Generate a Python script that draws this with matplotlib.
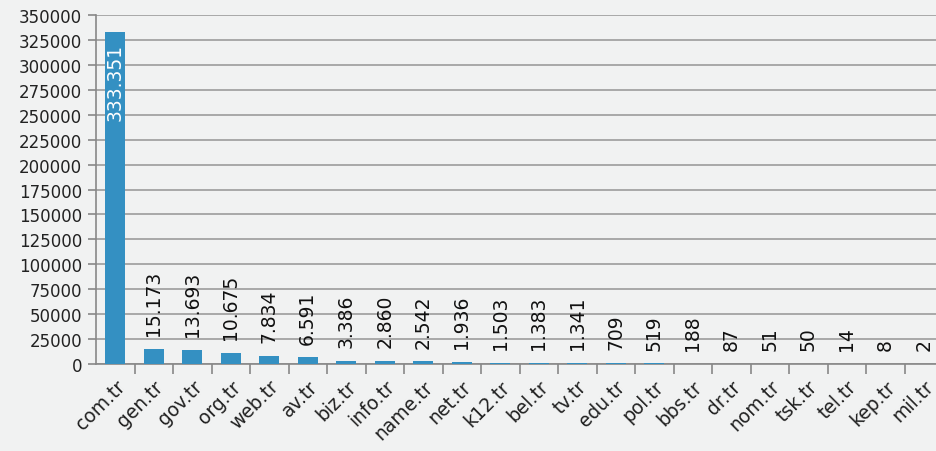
import matplotlib
matplotlib.use('Agg')
import matplotlib.pyplot as plt

domains = ['com.tr', 'gen.tr', 'gov.tr', 'org.tr', 'web.tr', 'av.tr', 'biz.tr', 'info.tr',
           'name.tr', 'net.tr', 'k12.tr', 'bel.tr', 'tv.tr', 'edu.tr', 'pol.tr', 'bbs.tr',
           'dr.tr', 'nom.tr', 'tsk.tr', 'tel.tr', 'kep.tr', 'mil.tr']
counts = [333351, 15173, 13693, 10675, 7834, 6591, 3386, 2860, 2542, 1936, 1503, 1383,
          1341, 709, 519, 188, 87, 51, 50, 14, 8, 2]
labels = ['333.351', '15.173', '13.693', '10.675', '7.834', '6.591', '3.386', '2.860',
          '2.542', '1.936', '1.503', '1.383', '1.341', '709', '519', '188', '87', '51',
          '50', '14', '8', '2']

bg = '#f1f2f2'
fig = plt.figure(figsize=(9.36, 4.52), dpi=100, facecolor=bg)
# plot area runs a bit past the right edge like in the original
ax = fig.add_axes([96/936, 87/452, 847/936, 349/452], facecolor=bg)

x = list(range(len(domains)))
ax.bar(x, counts, width=0.52, color='#3490c2', zorder=3)

ax.set_ylim(0, 350000)
ax.set_xlim(-0.5, len(domains) - 0.5)
ax.set_yticks(range(0, 350001, 25000))
ax.tick_params(axis='y', labelsize=12, colors='#222222', length=6, width=1.2, color='#888888', pad=4)
ax.yaxis.grid(True, color='#a3a3a3', lw=1.3, zorder=0)

ax.set_xticks(x)
ax.set_xticklabels(domains, rotation=45, ha='right', rotation_mode='anchor', fontsize=13.5, color='#222222')
ax.tick_params(axis='x', length=0, pad=9)
ax.set_xticks([i + 0.5 for i in x[:-1]], minor=True)
ax.tick_params(axis='x', which='minor', length=7, width=1.2, color='#888888')

for s in ['top', 'right']:
    ax.spines[s].set_visible(False)
ax.spines['left'].set_color('#888888')
ax.spines['left'].set_linewidth(1.2)
ax.spines['bottom'].set_color('#888888')
ax.spines['bottom'].set_linewidth(1.2)

for i, (v, lab) in enumerate(zip(counts, labels)):
    if i == 0:
        ax.annotate(lab, (i, v), xytext=(0, -8), textcoords='offset points', rotation=90,
                    ha='center', va='top', fontsize=13.5, color='white', zorder=4)
    else:
        ax.annotate(lab, (i, v), xytext=(0, 10), textcoords='offset points', rotation=90,
                    ha='center', va='bottom', fontsize=13.5, color='#111111', zorder=4)

fig.savefig('out.png', dpi=100, facecolor=bg)
